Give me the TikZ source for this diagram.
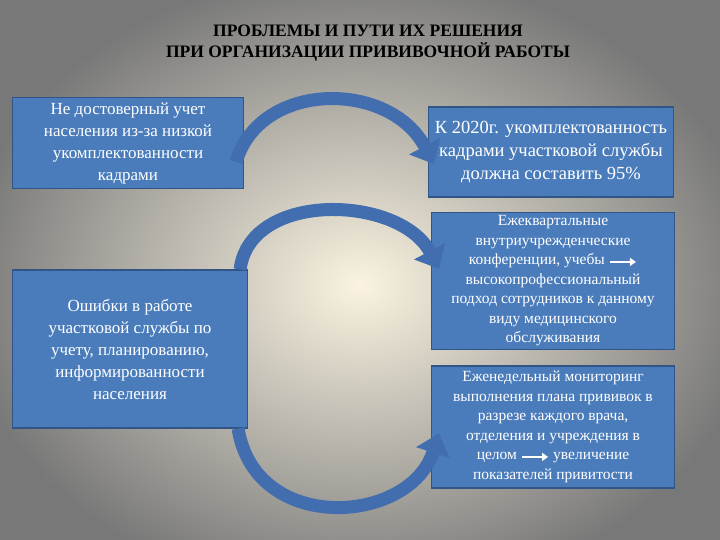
\documentclass[tikz,border=0pt]{standalone}
\usepackage{fontspec}
\setmainfont{Liberation Serif}
\usetikzlibrary{arrows.meta,calc}
\definecolor{boxfill}{RGB}{74,124,187}
\definecolor{boxedge}{RGB}{50,85,135}
\definecolor{arr}{RGB}{66,110,175}
\definecolor{bgin}{RGB}{250,243,225}
\definecolor{bgout}{RGB}{120,120,120}
\begin{document}
\begin{tikzpicture}[x=1pt,y=-1pt,
  box/.style={draw=boxedge,line width=1.2pt,fill=boxfill,text=white,align=center,inner sep=3pt,font=\fontsize{17}{22}\selectfont},
  carrow/.style={draw=arr,line width=13pt,-{Triangle[length=20pt,width=34pt]}},
  small/.style={font=\fontsize{15.5}{19.5}\selectfont}]
\useasboundingbox (0,0) rectangle (720,540);
\begin{scope}
\clip (0,0) rectangle (720,540);
\shade[inner color=bgin,outer color=bgout] (-40,-30) rectangle (760,600);
\end{scope}
\node[font=\bfseries\fontsize{17.5}{21}\selectfont,align=center] (t) at (368,43) {ПРОБЛЕМЫ И ПУТИ ИХ РЕШЕНИЯ\\ПРИ ОРГАНИЗАЦИИ ПРИВИВОЧНОЙ РАБОТЫ};
\node[box,minimum width=231pt,minimum height=91pt] (b1) at (128,143) {Не достоверный учет\\населения из-за низкой\\укомплектованности\\кадрами};
\node[box,minimum width=245pt,minimum height=90pt,font=\fontsize{18.5}{23}\selectfont] (b2) at (551,152) {К 2020г. укомплектованность\\кадрами участковой службы\\должна составить 95\%};
\node[box,minimum width=235pt,minimum height=158pt] (b3) at (130,349) {Ошибки в работе\\участковой службы по\\учету, планированию,\\информированности\\населения};
\node[box,small,minimum width=243pt,minimum height=137pt,inner sep=1pt] (b4) at (553,281) {Ежеквартальные\\внутриучрежденческие\\конференции, учебы \tikz[baseline=-3pt]\draw[white,line width=2.5pt,-{Triangle[length=6pt,width=8pt]}] (0,0)--(26pt,0);\\высокопрофессиональный\\подход сотрудников к данному\\виду медицинского\\обслуживания};
\node[box,small,minimum width=243pt,minimum height=122pt,inner sep=1pt] (b5) at (553,427) {Еженедельный мониторинг\\выполнения плана прививок в\\разрезе каждого врача,\\отделения и учреждения  в\\целом \tikz[baseline=-3pt]\draw[white,line width=2.5pt,-{Triangle[length=6pt,width=8pt]}] (0,0)--(26pt,0); увеличение\\показателей привитости};
\draw[carrow] ($(b1.north east)+(-8,65)$) .. controls (260,80) and (390,80) .. ($(b2.west)+(6,12)$);
\draw[carrow] ($(b3.north east)+(-8,0)$) .. controls (250,190) and (400,195) .. ($(b4.north west)+(8,57)$);
\draw[carrow] ($(b3.south east)+(-10,0)$) .. controls (255,535) and (410,525) .. ($(b5.north west)+(8,68)$);
\end{tikzpicture}
\end{document}
